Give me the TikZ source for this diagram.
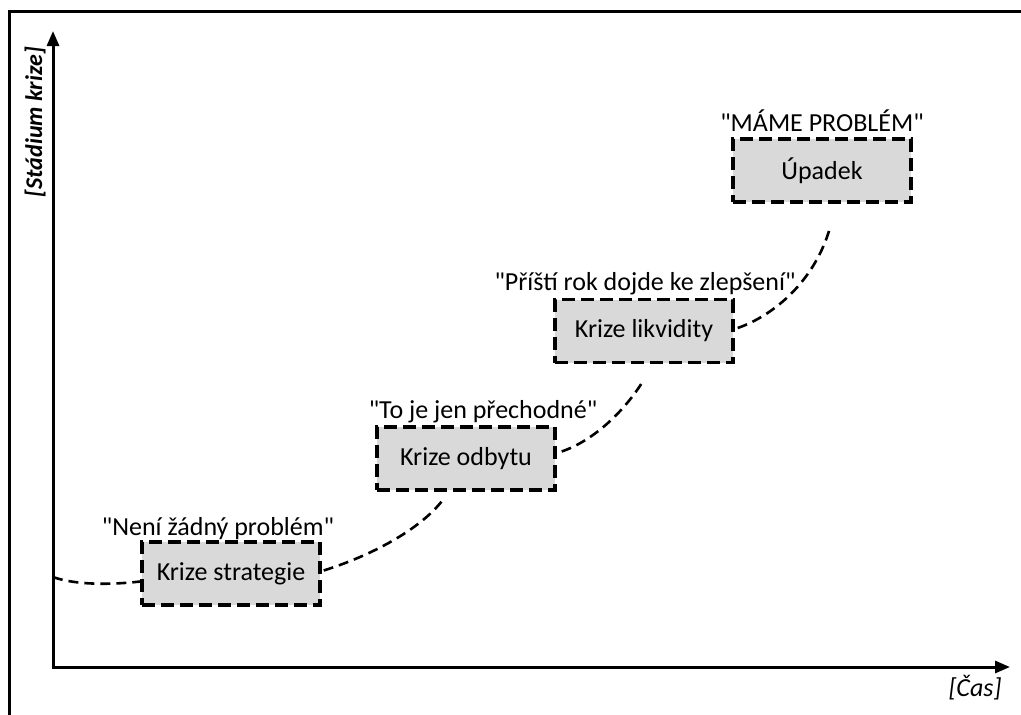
\documentclass[tikz,border=0pt]{standalone}
\usepackage{fontspec}
\setmainfont{Carlito}[Ligatures=TeXOff]
\usetikzlibrary{arrows.meta,calc}
\definecolor{boxgray}{HTML}{D9D9D9}
\tikzset{
  stage/.style={draw=black, fill=boxgray, line width=3.4pt,
    dash pattern=on 13pt off 6pt, minimum width=178pt, minimum height=63pt,
    inner sep=0pt, font=\fontsize{26}{30}\selectfont},
  quote/.style={inner sep=0pt, font=\fontsize{26}{30}\selectfont},
  trend/.style={line width=2.6pt, dash pattern=on 10pt off 6pt},
  axis/.style={line width=3pt, -{Triangle[length=15pt,width=12pt]}},
}
\begin{document}
\begin{tikzpicture}[x=1pt,y=-1pt]
\useasboundingbox (0,0) rectangle (1021,715);
% outer frame
\begin{scope}
\clip (0,0) rectangle (1021,715);
\draw[line width=2.6pt] (9.5,730) -- (9.5,11.5) -- (1040,11.5);
\end{scope}
% axes
\coordinate (O) at (53,667);
\coordinate (ytop) at (53,31);
\coordinate (xend) at (1010,667);
\draw[axis] (O) -- (ytop);
\draw[axis] ($(O)+(-1.5,0)$) -- (xend);
\node[rotate=90, inner sep=0pt, font=\fontsize{24}{28}\selectfont\bfseries\itshape] (ylab) at (35,122) {[Stádium krize]};
\node[inner sep=0pt, font=\fontsize{26}{30}\selectfont\itshape] (xlab) at (975,688) {[Čas]};
% stages
\node[stage] (s1) at (231,573.5) {Krize strategie};
\node[stage] (s2) at (466,458.5) {Krize odbytu};
\node[stage] (s3) at (644,331) {Krize likvidity};
\node[stage] (s4) at (822,170.5) {Úpadek};
% quotes
\node[quote] (q1) at (218,529) {"Není žádný problém"};
\node[quote] (q2) at (483,412) {"To je jen přechodné"};
\node[quote] (q3) at (645,284) {"Příští rok dojde ke zlepšení"};
\node[quote] (q4) at (822,121) {"MÁME PROBLÉM"};
% trend line between stages
\coordinate (c0) at (53,577);
\coordinate (c1a) at ($(s1.west)+(0,8)$);
\coordinate (c1b) at ($(s1.east)+(2,-3)$);
\coordinate (c2a) at ($(s2.south)+(-23,8)$);
\coordinate (c2b) at ($(s2.east)+(5,-7)$);
\coordinate (c3a) at ($(s3.south)+(-1,17)$);
\coordinate (c3b) at ($(s3.east)+(3,-3)$);
\coordinate (c4a) at ($(s4.south)+(8,24)$);
\draw[trend] (c0) .. controls (75,585) and (110,585) .. (c1a);
\draw[trend] (c1b) .. controls (370,556) and (420,530) .. (c2a);
\draw[trend] (c2b) .. controls (595,440) and (625,410) .. (c3a);
\draw[trend] (c3b) .. controls (775,315) and (815,280) .. (c4a);
\end{tikzpicture}
\end{document}
